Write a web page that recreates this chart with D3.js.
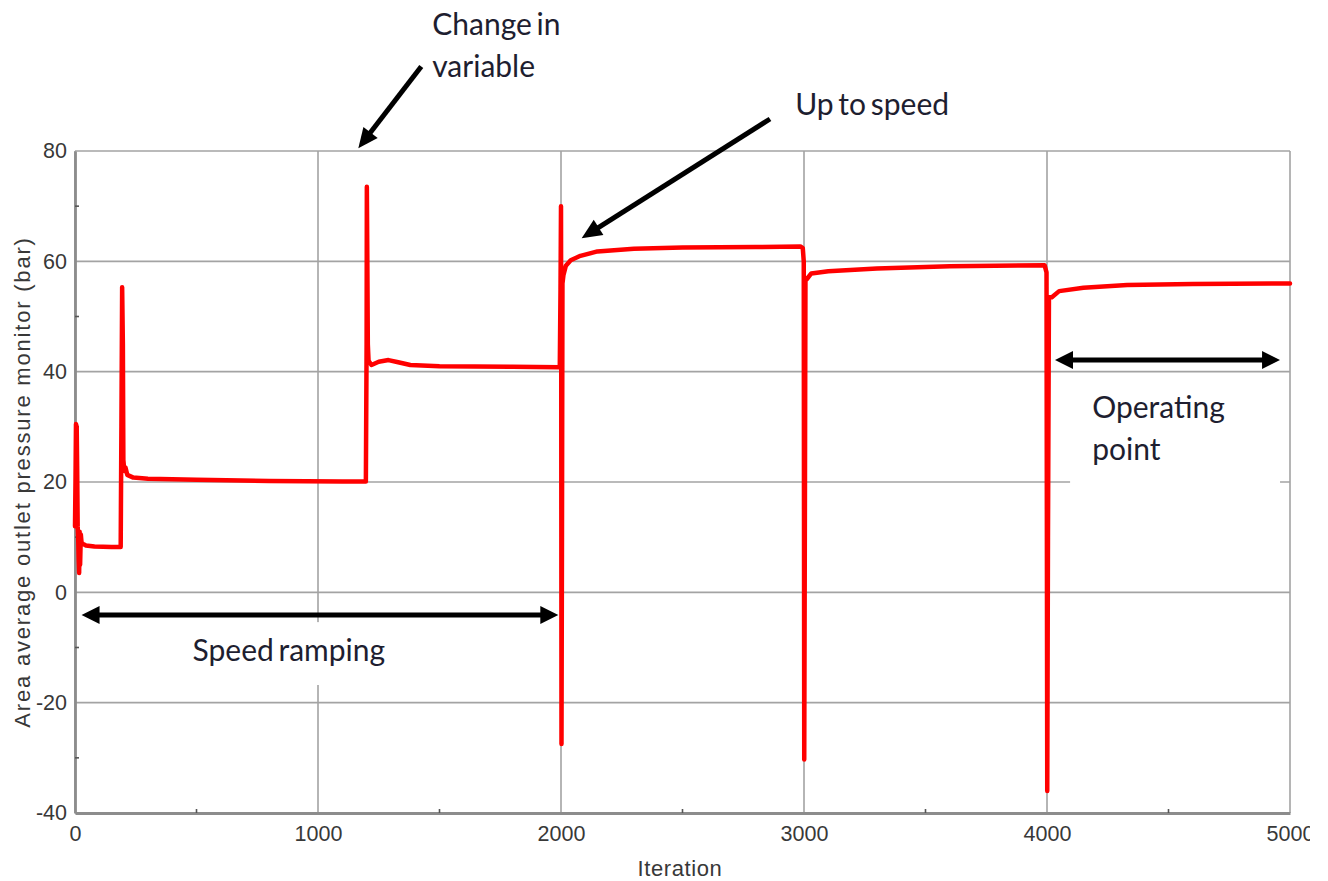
<!DOCTYPE html>
<html>
<head>
<meta charset="utf-8">
<script src="https://cdn.jsdelivr.net/npm/d3@7"></script>
<style>
  html, body { margin: 0; padding: 0; background: #ffffff; }
  svg { display: block; }
</style>
</head>
<body>
<svg id="chart" width="1310" height="881"></svg>
<script>
// Monitor history: iteration number vs. area-averaged outlet pressure (bar)
const iterations = [
  0, 2, 4, 7, 9, 11, 13, 15, 17, 19, 21, 24, 27, 32, 45, 80, 150, 188,
  191, 194, 197, 199, 203, 208, 215, 240, 300, 500, 800, 1100, 1197,
  1200, 1201, 1203, 1205, 1208, 1220, 1250, 1290, 1330, 1380, 1500, 1800, 1995,
  1998, 2000, 2001, 2002, 2004, 2006, 2010, 2020, 2040, 2080, 2150, 2300, 2500, 2800, 2985,
  2995, 2999, 3001, 3004, 3006, 3012, 3030, 3100, 3300, 3600, 3990,
  3998, 4001, 4004, 4008, 4020, 4050, 4150, 4330, 4600, 5000
];
const pressure = [
  12, 20, 30.5, 30, 22, 12, 10, 6, 3.5, 11, 5, 10.5, 9, 8.8, 8.5, 8.3, 8.2, 8.2,
  30, 55.3, 45, 24, 22, 22.6, 21.3, 20.8, 20.6, 20.4, 20.2, 20.1, 20.1,
  45, 73.5, 60, 45, 42, 41.2, 41.8, 42.1, 41.7, 41.2, 41, 40.9, 40.8,
  55, 70, 40, -27.5, 10, 56, 57.5, 59.2, 60.2, 61, 61.8, 62.3, 62.5, 62.6, 62.7,
  62.4, 60, -30.3, 20, 57, 56.8, 57.8, 58.2, 58.7, 59.1, 59.3,
  58, -36, 10, 53.5, 53.5, 54.6, 55.2, 55.7, 55.9, 56
];

// Axis ticks
const xMajorTicks = [0, 1000, 2000, 3000, 4000, 5000];
const xMinorTicks = [500, 1500, 2500, 3500, 4500];
const yMajorTicks = [-40, -20, 0, 20, 40, 60, 80];
const yMinorTicks = [-30, -10, 10, 30, 50, 70];

const xTitle = "Iteration";
const yTitle = "Area average outlet pressure monitor (bar)";

// Callouts, placed in data units
const notes = [
  { lines: ["Change in", "variable"], at: [1470, 101] },
  { lines: ["Up to speed"], at: [2964, 86.5] },
  { lines: ["Speed ramping"], at: [484, -12.4] },
  { lines: ["Operating", "point"], at: [4186, 31.6] }
];
const pointers = [
  { from: [1425, 95.3], to: [1166, 80.5] },
  { from: [2860, 85.8], to: [2085, 64.2] }
];
const spans = [
  { from: [27, -4.1], to: [1989, -4.1] },
  { from: [4033, 42.1], to: [4959, 42.1] }
];
// Opaque text-box backgrounds that hide the grid behind the labels
const textBoxes = [
  { x0: 309, x1: 1461, y0: -5.4, y1: -16.8 },
  { x0: 4095, x1: 4959, y0: 37.6, y1: 18.6 }
];

const svg = d3.select("#chart");
const plot = { left: 75, right: 1290, top: 151, bottom: 813 };

const x = d3.scaleLinear().domain([0, 5000]).range([plot.left, plot.right]);
const y = d3.scaleLinear().domain([-40, 80]).range([plot.bottom, plot.top]);

const gridColor = "#a3a3a3";
const hyphenInt = d => String(Math.round(d));

// Grid
const grid = svg.append("g");
grid.selectAll("line.gx").data(xMajorTicks).join("line")
  .attr("x1", d => x(d)).attr("x2", d => x(d))
  .attr("y1", plot.top).attr("y2", plot.bottom)
  .attr("stroke", gridColor).attr("stroke-width", 1.6);
grid.selectAll("line.gy").data(yMajorTicks).join("line")
  .attr("y1", d => y(d)).attr("y2", d => y(d))
  .attr("x1", plot.left).attr("x2", plot.right)
  .attr("stroke", gridColor).attr("stroke-width", 1.6);

// Text box backgrounds
svg.append("g").selectAll("rect").data(textBoxes).join("rect")
  .attr("x", d => x(d.x0)).attr("width", d => x(d.x1) - x(d.x0))
  .attr("y", d => y(d.y0)).attr("height", d => y(d.y1) - y(d.y0))
  .attr("fill", "#ffffff");

// Axes
const fontAxis = "'Liberation Sans', Arial, sans-serif";
const xAxis = d3.axisBottom(x).tickValues(xMajorTicks).tickSize(0).tickPadding(13)
  .tickFormat(hyphenInt);
const yAxis = d3.axisLeft(y).tickValues(yMajorTicks).tickSize(0).tickPadding(8)
  .tickFormat(hyphenInt);

const gx = svg.append("g").attr("transform", `translate(0,${plot.bottom})`).call(xAxis);
const gy = svg.append("g").attr("transform", `translate(${plot.left},0)`).call(yAxis);
[gx, gy].forEach(g => {
  g.select(".domain").attr("stroke", "#8c8c8c").attr("stroke-width", 2.8);
  g.selectAll("text").attr("font-family", fontAxis).attr("font-size", 21.5)
    .attr("fill", "#383838");
});

// Minor ticks, drawn inward
svg.append("g").selectAll("line").data(xMinorTicks).join("line")
  .attr("x1", d => x(d)).attr("x2", d => x(d))
  .attr("y1", plot.bottom).attr("y2", plot.bottom - 4)
  .attr("stroke", "#555").attr("stroke-width", 1.6);
svg.append("g").selectAll("line").data(yMinorTicks).join("line")
  .attr("y1", d => y(d)).attr("y2", d => y(d))
  .attr("x1", plot.left).attr("x2", plot.left + 4)
  .attr("stroke", "#555").attr("stroke-width", 1.6);

// Axis titles
svg.append("text").text(xTitle)
  .attr("x", 680).attr("y", 876).attr("text-anchor", "middle")
  .attr("letter-spacing", 0.6)
  .attr("font-family", fontAxis).attr("font-size", 22).attr("fill", "#383838");
svg.append("text").text(yTitle)
  .attr("transform", `translate(30,${482}) rotate(-90)`)
  .attr("text-anchor", "middle").attr("letter-spacing", 1.8)
  .attr("font-family", fontAxis).attr("font-size", 22).attr("fill", "#383838");

// Pressure history
const series = iterations.map((it, i) => [it, pressure[i]]);
svg.append("path").datum(series)
  .attr("fill", "none").attr("stroke", "#ff0000").attr("stroke-width", 4.5)
  .attr("stroke-linejoin", "round").attr("stroke-linecap", "round")
  .attr("d", d3.line().x(d => x(d[0])).y(d => y(d[1])));

// Arrows
function head(tip, tail, len, half) {
  const dx = tip[0] - tail[0], dy = tip[1] - tail[1];
  const L = Math.hypot(dx, dy), ux = dx / L, uy = dy / L;
  const bx = tip[0] - ux * len, by = tip[1] - uy * len;
  return [[tip[0], tip[1]], [bx - uy * half, by + ux * half], [bx + uy * half, by - ux * half]];
}
const arrows = svg.append("g");
pointers.forEach(p => {
  const a = [x(p.from[0]), y(p.from[1])], b = [x(p.to[0]), y(p.to[1])];
  const h = head(b, a, 20, 9);
  const dx = b[0] - a[0], dy = b[1] - a[1], L = Math.hypot(dx, dy);
  arrows.append("line").attr("x1", a[0]).attr("y1", a[1])
    .attr("x2", b[0] - dx / L * 16).attr("y2", b[1] - dy / L * 16)
    .attr("stroke", "#000").attr("stroke-width", 5);
  arrows.append("polygon").attr("points", h.map(q => q.join(",")).join(" ")).attr("fill", "#000");
});
spans.forEach(s => {
  const a = [x(s.from[0]), y(s.from[1])], b = [x(s.to[0]), y(s.to[1])];
  arrows.append("line").attr("x1", a[0] + 12).attr("y1", a[1])
    .attr("x2", b[0] - 12).attr("y2", b[1])
    .attr("stroke", "#000").attr("stroke-width", 5);
  [head(a, b, 18, 9), head(b, a, 18, 9)].forEach(h =>
    arrows.append("polygon").attr("points", h.map(q => q.join(",")).join(" ")).attr("fill", "#000"));
});

// Callout labels
const fontNote = "Lato, 'Open Sans', sans-serif";
notes.forEach(n => {
  const t = svg.append("text")
    .attr("font-family", fontNote).attr("font-size", 30).attr("word-spacing", -3)
    .attr("fill", "#1e1e30");
  n.lines.forEach((line, i) => {
    t.append("tspan").attr("x", x(n.at[0])).attr("y", y(n.at[1]) + i * 42).text(line);
  });
});
</script>
</body>
</html>
